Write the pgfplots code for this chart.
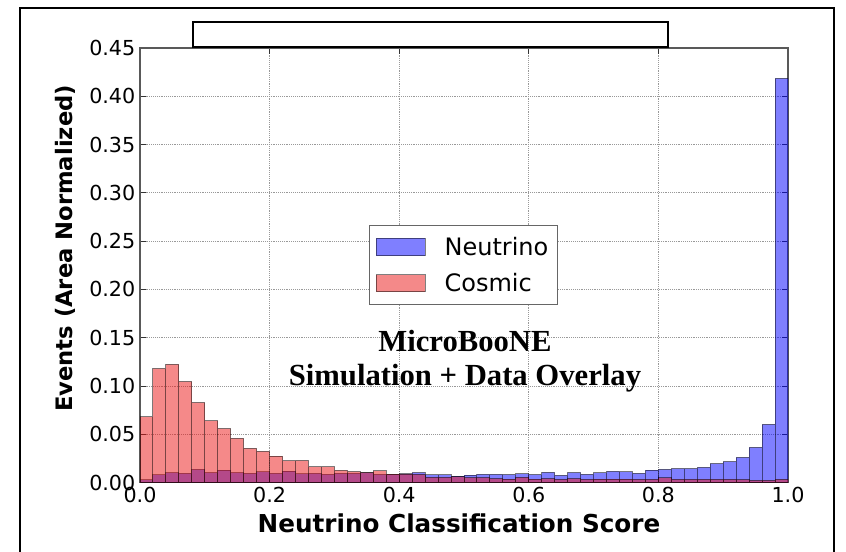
\documentclass[border=0pt]{standalone}
\usepackage{pgfplots}
\pgfplotsset{compat=1.18}
\usepackage{fontspec}
\setmainfont{DejaVu Sans}
\newfontfamily\timesfont{Liberation Serif}
\definecolor{cosmicred}{RGB}{235,20,20}

\pgfplotstableread{
x cosmic neutrino
0.01 0.0680 0.0027
0.03 0.1180 0.0079
0.05 0.1225 0.0103
0.07 0.1045 0.0096
0.09 0.0827 0.0137
0.11 0.0638 0.0103
0.13 0.0558 0.0130
0.15 0.0458 0.0103
0.17 0.0355 0.0096
0.19 0.0324 0.0110
0.21 0.0275 0.0096
0.23 0.0224 0.0120
0.25 0.0228 0.0090
0.27 0.0163 0.0096
0.29 0.0164 0.0086
0.31 0.0126 0.0096
0.33 0.0113 0.0096
0.35 0.0103 0.0100
0.37 0.0122 0.0086
0.39 0.0087 0.0086
0.41 0.0087 0.0090
0.43 0.0086 0.0103
0.45 0.0055 0.0081
0.47 0.0055 0.0080
0.49 0.0060 0.0068
0.51 0.0052 0.0077
0.53 0.0052 0.0086
0.55 0.0040 0.0086
0.57 0.0037 0.0082
0.59 0.0055 0.0090
0.61 0.0037 0.0082
0.63 0.0040 0.0107
0.65 0.0034 0.0075
0.67 0.0040 0.0103
0.69 0.0034 0.0086
0.71 0.0037 0.0100
0.73 0.0037 0.0117
0.75 0.0037 0.0110
0.77 0.0034 0.0096
0.79 0.0034 0.0130
0.81 0.0048 0.0137
0.83 0.0034 0.0144
0.85 0.0034 0.0144
0.87 0.0034 0.0158
0.89 0.0034 0.0196
0.91 0.0034 0.0217
0.93 0.0030 0.0262
0.95 0.0024 0.0365
0.97 0.0024 0.0603
0.99 0.0034 0.4185
}\histdata

\begin{document}
\begin{tikzpicture}
\path[use as bounding box] (0,0) rectangle (634.5pt,413.25pt);
% slide frame
\draw[line width=1.5pt] (15pt,-5pt) -- (15pt,407.25pt) -- (625.5pt,407.25pt) -- (625.5pt,-5pt);
\begin{axis}[
  at={(105pt,51.3pt)}, anchor=south west,
  scale only axis, width=486pt, height=326pt,
  xmin=0, xmax=1, ymin=0, ymax=0.45,
  xtick={0,0.2,0.4,0.6,0.8,1.0},
  ytick={0,0.05,0.10,0.15,0.20,0.25,0.30,0.35,0.40,0.45},
  /pgf/number format/assume math mode=true,
  tick label style={font=\fontsize{15.5}{18}\selectfont},
  xticklabel style={/pgf/number format/.cd, fixed, fixed zerofill, precision=1},
  yticklabel style={/pgf/number format/.cd, fixed, fixed zerofill, precision=2},
  tick align=inside, major tick length=4.5pt,
  tick style={black!80, line width=0.75pt},
  axis line style={black!65, line width=0.9pt},
  grid=major,
  major grid style={densely dotted, black!40, line width=0.7pt},
  xlabel={Neutrino Classification Score},
  ylabel={Events (Area Normalized)},
  every axis x label/.style={at={(axis description cs:0.4923,-0.0929)}, anchor=center,
    font=\bfseries\fontsize{18.5}{22}\selectfont},
  every axis y label/.style={at={(axis description cs:-0.1157,0.5386)}, rotate=90, anchor=center,
    font=\bfseries\fontsize{17}{20}\selectfont},
  legend style={at={(axis description cs:0.353,0.5926)}, anchor=north west,
    draw=black!60, line width=0.75pt, font=\fontsize{18}{21}\selectfont,
    inner xsep=5pt, inner ysep=6.5pt, row sep=8pt,
    /tikz/every odd column/.append style={column sep=12pt}},
  legend cell align=left,
]
\addplot[ybar, bar width=0.02, bar shift=0pt, fill=blue, draw=black,
  fill opacity=0.5, draw opacity=0.5, line width=0.75pt,
  legend image code/.code={\draw[fill=blue, fill opacity=0.5, draw=black, draw opacity=0.5, line width=0.75pt] (0pt,-6.4pt) rectangle (36.75pt,6.4pt);}]
  table[x=x, y=neutrino] {\histdata};
\addlegendentry{Neutrino}
\addplot[ybar, bar width=0.02, bar shift=0pt, fill=cosmicred, draw=black,
  fill opacity=0.5, draw opacity=0.5, line width=0.75pt,
  legend image code/.code={\draw[fill=cosmicred, fill opacity=0.5, draw=black, draw opacity=0.5, line width=0.75pt] (0pt,-6.4pt) rectangle (36.75pt,6.4pt);}]
  table[x=x, y=cosmic] {\histdata};
\addlegendentry{Cosmic}
\node[font=\timesfont\bfseries\fontsize{23}{27}\selectfont] at (axis cs:0.5015,0.1469) {MicroBooNE};
\node[font=\timesfont\bfseries\fontsize{23}{27}\selectfont] at (axis cs:0.5015,0.1083) {Simulation + Data Overlay};
\end{axis}
% white box at top
\draw[line width=1.5pt, fill=white] (144.75pt,378pt) rectangle (501pt,396.75pt);
\end{tikzpicture}
\end{document}
